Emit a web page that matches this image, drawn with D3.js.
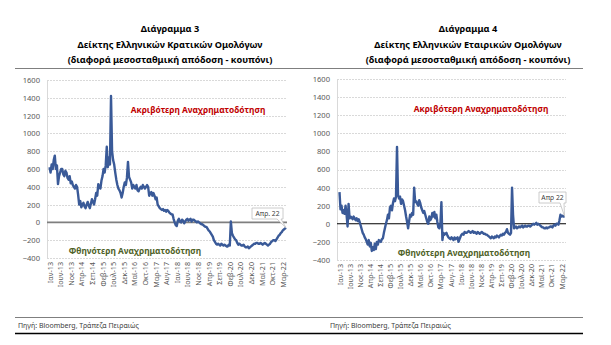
<!DOCTYPE html>
<html>
<head>
<meta charset="utf-8">
<script src="https://cdn.jsdelivr.net/npm/d3@7"></script>
<style>
  body { margin: 0; background: #fff; }
  svg { display: block; }
  text { font-family: "Noto Sans", "DejaVu Sans", sans-serif; }
</style>
</head>
<body>
<svg id="chart" width="611" height="345"></svg>
<script>
// Month labels on the category axis, every five months from Jan 2013
const monthLabels = ["Ιαν-13","Ιουν-13","Νοε-13","Απρ-14","Σεπ-14","Φεβ-15","Ιουλ-15","Δεκ-15",
  "Μαϊ-16","Οκτ-16","Μαρ-17","Αυγ-17","Ιαν-18","Ιουν-18","Νοε-18","Απρ-19","Σεπ-19","Φεβ-20",
  "Ιουλ-20","Δεκ-20","Μαϊ-21","Οκτ-21","Μαρ-22"];
const yTicks = [-400, -200, 0, 200, 400, 600, 800, 1000, 1200, 1400, 1600];

// Spread of Greek government bonds (yield minus coupon, bp), two readings per month from Jan 2013
const govSpread = [620,560, 650,600, 700,750, 600,640, 430,520, 560,600, 600,540, 520,580, 560,500, 480,520,
  440,460, 420,400, 380,420, 400,310, 200,240, 170,200, 220,180, 160,200, 230,190, 160,210,
  260,230, 200,260, 330,300, 430,390, 380,470, 520,600, 560,640, 850,620, 730,650, 1420,800,
  700,650, 560,480, 420,380, 360,330, 280,330, 400,450, 420,500, 680,510, 480,450, 380,420,
  400,380, 420,360, 350,380, 400,380, 420,400, 380,400, 420,400, 300,330, 340,300, 330,300,
  260,280, 200,180, 160,150, 140,150, 130,140, 120,140, 130,110, 100,90, 90,40, 0,-30,
  -40,20, 40,10, 0,30, 20,-10, 10,30, 40,20, 30,40, 10,30, 30,20, 10,0,
  10,0, -10,-20, -20,-30, -40,-50, -50,-70, -90,-100, -120,-140, -160,-200, -220,-240, -250,-240,
  -250,-260, -240,-250, -260,-250, -260,-270, -270,-250, -260,10, -120,-150, -170,-190, -200,-230, -250,-240,
  -250,-260, -260,-250, -270,-280, -280,-270, -290,-280, -270,-260, -250,-240, -240,-230, -230,-240, -240,-230,
  -240,-250, -240,-230, -240,-250, -260,-250, -240,-220, -210,-200, -200,-210, -190,-170, -150,-140, -120,-110,
  -90,-80, -70,-60];

// Spread of Greek corporate bonds (yield minus coupon, bp), same frequency
const corpSpread = [350,160, 200,120, 150,110, 200,100, -30,220, 60,80, 70,50, 80,60, 40,60, 30,50,
  20,-20, -60,-100, -120,-150, -170,-200, -230,-180, -250,-210, -300,-260, -290,-220, -280,-200, -230,-180,
  -190,-200, -170,-160, -100,-50, 0,40, 100,60, 180,200, 150,230, 280,250, 300,850, 320,280,
  300,220, 270,250, 200,150, 80,20, -50,30, 100,80, 120,100, 400,240, 250,220, 200,260,
  230,180, 150,120, 140,100, 60,20, 0,80, 40,60, 120,80, 130,60, 100,20, -40,-50,
  0,240, -180,-100, -120,-110, -100,-130, -150,-160, -170,-150, -160,-180, -150,-170, -160,-150, -200,-170,
  -140,-120, -110,-120, -90,-100, -100,-90, -80,-90, -100,-90, -80,-100, -90,-100, -110,-90, -100,-110,
  -100,-90, -100,-110, -110,-120, -120,-130, -140,-150, -160,-140, -150,-160, -140,-150, -130,-140, -150,-130,
  -120,-130, -110,-120, -100,-90, -60,-100, -110,-120, -100,400, 100,-50, -40,-30, -50,-40, -30,-40,
  -30,-20, -40,-30, -20,-30, -30,-20, -20,-30, -20,-10, 0,-10, 0,10, -10,0, -10,-20,
  -30,-40, -40,-50, -50,-40, -50,-40, -40,-30, -30,-40, -20,-10, -20,0, 0,-10, 40,100,
  80,90, 80,85];

const svg = d3.select("#chart");
const lineColor = "#3A5A98";

const panels = [
  {
    title: ["Διάγραμμα 3", "Δείκτης Ελληνικών Κρατικών Ομολόγων", "(διαφορά μεσοσταθμική απόδοση - κουπόνι)"],
    titleX: 170,
    values: govSpread,
    xRange: [49.5, 286], plotLeft: 47, plotRight: 287,
    yRange: [258, 80],
    zeroColor: "#7F7F7F", zeroWidth: 1.6,
    callout: "Απρ. 22", box: { x: 252, y: 208, w: 31, h: 11 },
    upper: { x: 198, y: 113 }, lower: { x: 135, y: 254 },
    source: 18
  },
  {
    title: ["Διάγραμμα 4", "Δείκτης Ελληνικών Εταιρικών Ομολόγων", "(διαφορά μεσοσταθμική απόδοση - κουπόνι)"],
    titleX: 468,
    values: corpSpread,
    xRange: [339.5, 564.5], plotLeft: 337, plotRight: 566,
    yRange: [260, 79],
    zeroColor: "#000000", zeroWidth: 1.1,
    callout: "Απρ 22", box: { x: 539, y: 192, w: 27, h: 11 },
    upper: { x: 481, y: 112 }, lower: { x: 464, y: 256 },
    source: 330
  }
];

// Header and footer rules
svg.append("line").attr("x1", 15).attr("x2", 583).attr("y1", 68.5).attr("y2", 68.5)
  .attr("stroke", "#7F7F7F").attr("stroke-width", 1);
svg.append("line").attr("x1", 15).attr("x2", 583).attr("y1", 317.5).attr("y2", 317.5)
  .attr("stroke", "#7F7F7F").attr("stroke-width", 1);
svg.append("line").attr("x1", 15).attr("x2", 583).attr("y1", 333.5).attr("y2", 333.5)
  .attr("stroke", "#000").attr("stroke-width", 1.3);

panels.forEach(p => {
  const g = svg.append("g");
  const x = d3.scaleLinear().domain([0, 111.5]).range(p.xRange);
  const y = d3.scaleLinear().domain([-400, 1600]).range(p.yRange);

  // Titles
  p.title.forEach((t, i) => {
    g.append("text").attr("x", p.titleX).attr("y", 32 + i * 15.5)
      .attr("text-anchor", "middle").attr("font-size", 9.2).attr("font-weight", "bold")
      .attr("fill", "#000").text(t);
  });

  // Dashed horizontal gridlines
  g.selectAll(".grid").data(yTicks.filter(v => v !== 0)).join("line")
    .attr("x1", p.plotLeft).attr("x2", p.plotRight)
    .attr("y1", d => Math.round(y(d)) + 0.5).attr("y2", d => Math.round(y(d)) + 0.5)
    .attr("stroke", "#D9D9D9").attr("stroke-width", 1).attr("stroke-dasharray", "2,1");

  // Left axis line
  g.append("line").attr("x1", p.plotLeft + 0.5).attr("x2", p.plotLeft + 0.5)
    .attr("y1", y(1600)).attr("y2", y(-400)).attr("stroke", "#D9D9D9");

  // Y axis labels
  const yAxis = d3.axisLeft(y).tickValues(yTicks).tickSize(0).tickPadding(0).tickFormat(d3.format("d"));
  const ya = g.append("g").attr("transform", `translate(${p.plotLeft - 7},0)`).call(yAxis);
  ya.select(".domain").remove();
  ya.selectAll("text").attr("font-size", 7.6).attr("fill", "#595959")
    .attr("font-family", "'Noto Sans', sans-serif");

  // Zero line
  g.append("line").attr("x1", p.plotLeft).attr("x2", p.plotRight)
    .attr("y1", y(0)).attr("y2", y(0))
    .attr("stroke", p.zeroColor).attr("stroke-width", p.zeroWidth);

  // X axis month labels, rotated
  const xAxis = d3.axisBottom(x).tickValues(monthLabels.map((_, i) => i * 5))
    .tickSize(0).tickPadding(0).tickFormat((d, i) => monthLabels[i]);
  const xa = g.append("g").attr("transform", `translate(0,${y(-400) + 4})`).call(xAxis);
  xa.select(".domain").remove();
  xa.selectAll("text")
    .attr("font-size", 7.2).attr("fill", "#595959")
    .attr("font-family", "'Noto Sans', sans-serif")
    .attr("transform", "rotate(-90)")
    .attr("text-anchor", "end").attr("dy", "0.35em").attr("x", 0).attr("y", 0);

  // Spread series
  const line = d3.line().x((d, i) => x(i / 2)).y(d => y(d));
  g.append("path").datum(p.values).attr("d", line)
    .attr("fill", "none").attr("stroke", lineColor).attr("stroke-width", 2.4)
    .attr("stroke-linejoin", "round");

  // Region annotations
  g.append("text").attr("x", p.upper.x).attr("y", p.upper.y).attr("text-anchor", "middle")
    .attr("font-size", 8.4).attr("font-weight", "bold").attr("fill", "#C00000")
    .text("Ακριβότερη Αναχρηματοδότηση");
  g.append("text").attr("x", p.lower.x).attr("y", p.lower.y).attr("text-anchor", "middle")
    .attr("font-size", 8.4).attr("font-weight", "bold").attr("fill", "#4F6228")
    .text("Φθηνότερη Αναχρηματοδότηση");

  // Callout for the latest reading
  const last = p.values.length - 1;
  const px = x(last / 2), py = y(p.values[last]);
  const b = p.box;
  const tailA = b.x + b.w - 6, tailB = b.x + b.w - 2;
  const path = `M${b.x},${b.y} H${b.x + b.w} V${b.y + b.h} H${tailB} L${px},${py} L${tailA},${b.y + b.h} H${b.x} Z`;
  g.append("path").attr("d", path).attr("fill", "#fff").attr("stroke", "#BFBFBF").attr("stroke-width", 0.8);
  g.append("text").attr("x", b.x + b.w / 2).attr("y", b.y + b.h / 2).attr("dy", "0.35em")
    .attr("text-anchor", "middle").attr("font-size", 6.8).attr("fill", "#404040").text(p.callout);

  // Source
  g.append("text").attr("x", p.source).attr("y", 328).attr("font-size", 7)
    .attr("fill", "#404040").text("Πηγή: Bloomberg, Τράπεζα Πειραιώς");
});
</script>
</body>
</html>
